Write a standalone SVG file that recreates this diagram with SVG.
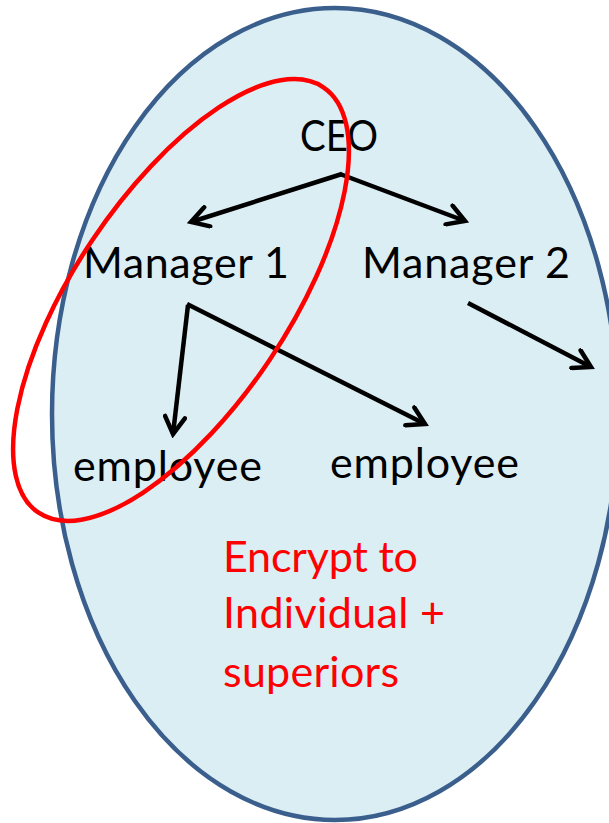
<svg xmlns="http://www.w3.org/2000/svg" width="609" height="823" viewBox="0 0 609 823">
  <style>
    .lbl { font-family: Lato, "Open Sans", "Liberation Sans", sans-serif; font-size: 43px; fill: #000000; }
    .note { font-family: Lato, "Open Sans", "Liberation Sans", sans-serif; font-size: 43px; fill: #FF0000; }
    .edge { stroke: #000000; stroke-width: 4.5; fill: none; stroke-linecap: butt; marker-end: url(#head); }
  </style>
  <defs>
    <marker id="head" viewBox="0 0 24 24" markerUnits="userSpaceOnUse" markerWidth="24" markerHeight="24" refX="20" refY="12" orient="auto">
      <path d="M3,2 L20,12 L3,22" fill="none" stroke="#000000" stroke-width="4.5" stroke-linecap="round" stroke-linejoin="miter"/>
    </marker>
  </defs>

  <!-- organisation boundary -->
  <g id="org">
    <ellipse cx="335" cy="414" rx="283" ry="406" fill="#DBEEF4" stroke="#3B5F8C" stroke-width="4.5"/>
  </g>

  <!-- nodes -->
  <g id="ceo"><text class="lbl" x="300" y="151" textLength="78" lengthAdjust="spacingAndGlyphs">CEO</text></g>
  <g id="manager1"><text class="lbl" x="83" y="278" textLength="206">Manager 1</text></g>
  <g id="manager2"><text class="lbl" x="362" y="278" textLength="208">Manager 2</text></g>
  <g id="employee1"><text class="lbl" x="73" y="481" textLength="189">employee</text></g>
  <g id="employee2"><text class="lbl" x="330" y="478" textLength="189">employee</text></g>

  <!-- connectors -->
  <g id="connectors">
    <line class="edge" x1="342" y1="174" x2="191" y2="222"/>
    <line class="edge" x1="340" y1="174" x2="465" y2="221"/>
    <line class="edge" x1="188" y1="305" x2="173" y2="434"/>
    <line class="edge" x1="187" y1="304" x2="425" y2="424"/>
    <line class="edge" x1="468" y1="303" x2="591" y2="367"/>
  </g>

  <!-- encryption scope: individual plus superiors -->
  <g id="scope">
    <ellipse cx="0" cy="0" rx="256" ry="107" transform="translate(181,300) rotate(-56.2)" fill="none" stroke="#FF0000" stroke-width="4.5"/>
  </g>

  <g id="caption">
    <text class="note" x="223" y="572" textLength="195">Encrypt to</text>
    <text class="note" x="223" y="628" textLength="222">Individual +</text>
    <text class="note" x="223" y="687" textLength="176">superiors</text>
  </g>
</svg>
